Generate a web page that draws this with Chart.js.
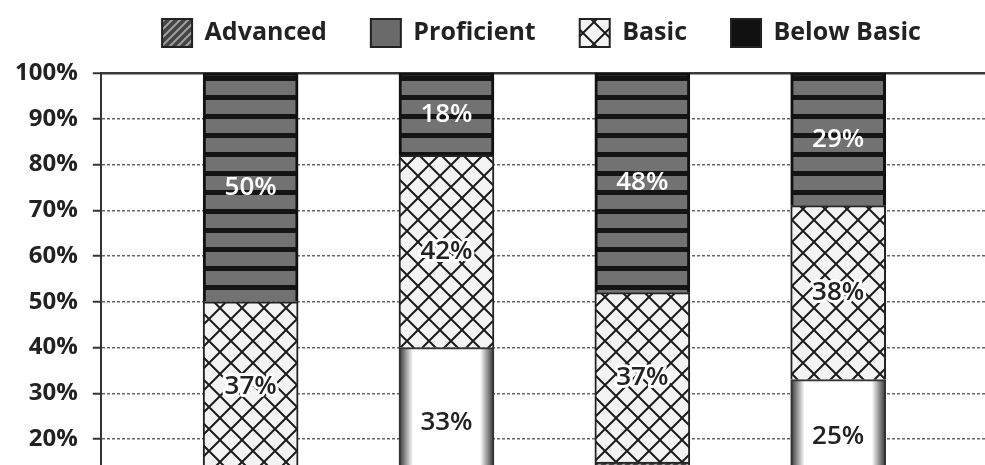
<!DOCTYPE html>
<html>
<head>
<meta charset="utf-8">
<script src="https://cdn.jsdelivr.net/npm/chart.js@4.4.1/dist/chart.umd.min.js"></script>
<style>
  html, body { margin: 0; padding: 0; background: #fff; overflow: hidden; }
  #wrap { position: relative; width: 985px; height: 465px; overflow: hidden; }
  #levels { position: absolute; left: 0; top: 0; }
</style>
</head>
<body>
<div id="wrap"><canvas id="levels" width="1083" height="560"></canvas></div>
<script>
// share of students at each achievement level, in percent (bottom of the stack first)
var groups = ['Group 1', 'Group 2', 'Group 3', 'Group 4'];
var levels = ['Advanced', 'Proficient', 'Basic', 'Below Basic'];
var advanced = [13, 7, 15, 8];
var proficient = [0, 33, 0, 25];
var basic = [37, 42, 37, 38];
var belowBasic = [50, 18, 48, 29];

var canvas = document.getElementById('levels');
var mainCtx = canvas.getContext('2d');

function makePattern(w, h, paint) {
  var tile = document.createElement('canvas');
  tile.width = w;
  tile.height = h;
  paint(tile.getContext('2d'), w, h);
  return mainCtx.createPattern(tile, 'repeat');
}

// gray with heavy black horizontal stripes
var stripes = makePattern(4, 19, function (g, w, h) {
  g.fillStyle = '#727272';
  g.fillRect(0, 0, w, h);
  g.fillStyle = '#141414';
  g.fillRect(0, 0, w, 5);
});

// light crosshatch
var crosshatch = makePattern(22, 22, function (g, w, h) {
  g.fillStyle = '#f3f3f3';
  g.fillRect(0, 0, w, h);
  g.strokeStyle = '#1c1c1c';
  g.lineWidth = 2;
  g.beginPath();
  g.moveTo(-1, -1); g.lineTo(w + 1, h + 1);
  g.moveTo(w + 1, -1); g.lineTo(-1, h + 1);
  g.stroke();
});

// dark diagonal hatch
var hatch = makePattern(8, 8, function (g, w, h) {
  g.fillStyle = '#444';
  g.fillRect(0, 0, w, h);
  g.strokeStyle = '#a0a0a0';
  g.lineWidth = 2;
  g.beginPath();
  g.moveTo(0, h); g.lineTo(w, 0);
  g.moveTo(-2, 2); g.lineTo(2, -2);
  g.moveTo(w - 2, h + 2); g.lineTo(w + 2, h - 2);
  g.stroke();
});

// white fill that darkens toward the bar's sides
function sideShade(c) {
  if (c.type !== 'data' || !c.parsed) return '#fff';
  var chart = c.chart;
  var cx = chart.scales.x ? chart.scales.x.getPixelForValue(c.parsed.x) : NaN;
  if (!isFinite(cx)) return '#fff';
  var g = chart.ctx.createLinearGradient(cx - 48, 0, cx + 48, 0);
  g.addColorStop(0, '#2a2a2a');
  g.addColorStop(0.15, '#ffffff');
  g.addColorStop(0.85, '#ffffff');
  g.addColorStop(1, '#2a2a2a');
  return g;
}

var swatches = [hatch, '#6a6a6a', crosshatch, '#111'];
var labelInk = ['#222', '#222', '#222', '#fff'];
var labelHalo = [null, null, '#fff', null];

function points(values) {
  return values.map(function (v, i) { return { x: i, y: v }; });
}

// extra room between legend and plot
var legendGap = {
  id: 'legendGap',
  beforeInit: function (chart) {
    var fit = chart.legend.fit;
    chart.legend.fit = function () {
      fit.bind(chart.legend)();
      this.height += 16;
    };
  }
};

// percent labels in the middle of each segment
var segmentLabels = {
  id: 'segmentLabels',
  afterDatasetsDraw: function (chart) {
    var ctx = chart.ctx;
    ctx.save();
    ctx.font = '600 26px "Open Sans"';
    ctx.textAlign = 'center';
    ctx.textBaseline = 'middle';
    ctx.lineJoin = 'round';
    chart.data.datasets.forEach(function (ds, di) {
      chart.getDatasetMeta(di).data.forEach(function (bar, i) {
        var v = ds.data[i].y;
        if (!v) return;
        var y = (bar.y + bar.base) / 2;
        var text = v + '%';
        if (labelHalo[di]) {
          ctx.strokeStyle = labelHalo[di];
          ctx.lineWidth = 6;
          ctx.strokeText(text, bar.x, y);
        }
        ctx.fillStyle = labelInk[di];
        ctx.fillText(text, bar.x, y);
      });
    });
    ctx.restore();
  }
};

Chart.defaults.font.family = '"Open Sans", sans-serif';

new Chart(canvas, {
  type: 'bar',
  data: {
    datasets: [
      { label: levels[0], data: points(advanced), backgroundColor: hatch, borderColor: '#222', borderWidth: 2 },
      { label: levels[1], data: points(proficient), backgroundColor: sideShade, borderColor: '#333', borderWidth: 2 },
      { label: levels[2], data: points(basic), backgroundColor: crosshatch, borderColor: '#222', borderWidth: 2 },
      { label: levels[3], data: points(belowBasic), backgroundColor: stripes, borderColor: '#111', borderWidth: 3 }
    ]
  },
  plugins: [legendGap, segmentLabels],
  options: {
    responsive: false,
    animation: false,
    devicePixelRatio: 1,
    barThickness: 95,
    layout: { padding: { top: -25, left: 0, right: 0, bottom: 16 } },
    plugins: {
      legend: {
        position: 'top',
        labels: {
          boxWidth: 30,
          boxHeight: 28,
          padding: 44,
          color: '#222',
          font: { size: 25, weight: '700' },
          generateLabels: function (chart) {
            var items = Chart.defaults.plugins.legend.labels.generateLabels(chart);
            items.forEach(function (it, i) {
              it.fillStyle = swatches[i];
              it.strokeStyle = '#222';
              it.lineWidth = 2;
            });
            return items;
          }
        }
      },
      tooltip: {
        callbacks: {
          title: function (items) { return groups[items[0].dataIndex]; },
          label: function (item) { return item.dataset.label + ': ' + item.raw.y + '%'; }
        }
      }
    },
    scales: {
      x: {
        type: 'linear',
        stacked: true,
        display: false,
        offset: false,
        min: -0.765,
        max: 4.25
      },
      y: {
        stacked: true,
        min: 0,
        max: 100,
        ticks: {
          stepSize: 10,
          padding: 15,
          color: '#222',
          font: { size: 24, weight: '700' },
          callback: function (v) { return v + '%'; }
        },
        grid: {
          color: function (c) { return c.tick && c.tick.value === 100 ? '#3a3a3a' : '#666'; },
          lineWidth: function (c) { return c.tick && c.tick.value === 100 ? 2.5 : 1.5; },
          tickLength: 8,
          tickColor: '#333',
          tickWidth: 2
        },
        border: {
          color: '#333',
          width: 2,
          dash: function (c) { return c.tick && c.tick.value === 100 ? [] : [3, 2]; }
        }
      }
    }
  }
});
</script>
</body>
</html>
